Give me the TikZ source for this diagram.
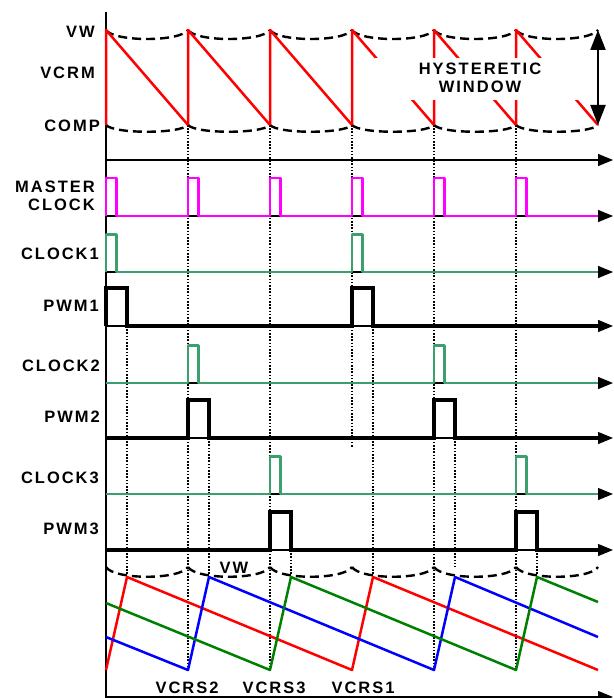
\documentclass[tikz,border=0pt]{standalone}
\usepackage{fontspec}
\setmainfont{Liberation Sans}
\newfontfamily\lblfont[LetterSpace=12]{Liberation Sans}
\usetikzlibrary{arrows.meta}
\definecolor{mclk}{RGB}{255,0,255}
\definecolor{clkgreen}{RGB}{60,160,110}
\definecolor{vgreen}{RGB}{0,128,0}
\begin{document}
\begin{tikzpicture}[x=1pt,y=-1pt,line join=round,
  >={Triangle[length=15pt,width=12pt]},
  lbl/.style={font=\lblfont\bfseries\fontsize{16.5}{18}\selectfont,inner sep=0pt},
  axis/.style={line width=1.2pt},
  vdot/.style={line width=1.8pt,dash pattern=on 1.6pt off 1.6pt},
  win/.style={line width=2.4pt,dash pattern=on 9pt off 5pt},
  clk/.style={line width=2.5pt},
  pwm/.style={line width=3.8pt,line join=miter}]
\def\P{82} \def\xo{106} \def\xe{598}
\useasboundingbox (0,0) rectangle (613,698);
% axes
\draw[axis] (\xo,12)--(\xo,698);
\foreach \y in {160,216,272,326,383,438,494,550,697}
  \draw[axis,->] (\xo,\y)--(613,\y);
% signal names
\node[lbl,anchor=east] (vw) at (95,32) {VW};
\node[lbl,anchor=east] (vcrm) at (95,73) {VCRM};
\node[lbl,anchor=east] (comp) at (100,126) {COMP};
\node[lbl,anchor=east,align=right] (mclock) at (95,196) {MASTER\\CLOCK};
\node[lbl,anchor=east] (clock1) at (99,254) {CLOCK1};
\node[lbl,anchor=east] (pwm1) at (99,306) {PWM1};
\node[lbl,anchor=east] (clock2) at (100,366) {CLOCK2};
\node[lbl,anchor=east] (pwm2) at (100,417) {PWM2};
\node[lbl,anchor=east] (clock3) at (99,478) {CLOCK3};
\node[lbl,anchor=east] (pwm3) at (99,529) {PWM3};
% dotted lines from COMP
\foreach \k/\e in {1/670,2/670,3/447,4/670,5/670}
  \draw[vdot] ({\xo+\k*\P},125)--({\xo+\k*\P},\e);
% hysteretic window and VCRM
\foreach \k in {0,...,5}{
  \pgfmathsetmacro\xa{\xo+\k*\P} \pgfmathsetmacro\xb{\xa+\P}
  \draw[win] (\xa,30) .. controls (\xa+8,42) and (\xb-8,42) .. (\xb,30);
  \draw[win] (\xa,125) .. controls (\xa+8,134) and (\xb-8,134) .. (\xb,125);
  \draw[win] (\xa,567) .. controls (\xa+8,580) and (\xb-8,580) .. (\xb,567);
  \draw[red,clk] (\xa,125)--(\xa,30)--(\xb,125);
}
\fill[white] (375,58) rectangle (588,100);
\node[lbl,align=center] (hyst) at (480,77.5) {HYSTERETIC\\WINDOW};
\draw[<->,line width=2.2pt,>={Triangle[length=20pt,width=15pt]}] (\xe,30)--(\xe,125);
% master clock
\draw[mclk,clk] (\xo,216) \foreach \k in {0,...,5}{
  --({\xo+\k*\P},216)--++(0,-38)--++(10.5,0)--++(0,38)} --(\xe,216);
% phase clocks and PWM
\foreach \cb/\pb/\de [count=\i from 0] in {272/326/577,383/438/567,494/550/577}{
  \pgfmathsetmacro\xa{\xo+\i*\P} \pgfmathsetmacro\xb{\xa+3*\P}
  \draw[vdot] (\xa+21,\pb)--(\xa+21,577) (\xb+21,\pb)--(\xb+21,\de);
  \draw[clkgreen,clk] (\xo,\cb)--(\xa,\cb)--++(0,-37.5)--++(10.5,0)--++(0,37.5)
    --(\xb,\cb)--++(0,-37.5)--++(10.5,0)--++(0,37.5)--(\xe,\cb);
  \draw[pwm] (\xo,\pb)--(\xa,\pb)--++(0,-38)--++(21,0)--++(0,38)
    --(\xb,\pb)--++(0,-38)--++(21,0)--++(0,38)--(\xe,\pb);
}
% VCRS ramps
\draw[red,clk] (\xo,670)--(127,577)--(352,670)--(373,577)--(\xe,670);
\draw[blue,clk] (\xo,637)--(188,670)--(209,577)--(434,670)--(455,577)--(\xe,637);
\draw[vgreen,clk] (\xo,603)--(270,670)--(291,577)--(516,670)--(537,577)--(\xe,602);
\node[lbl] (vwb) at (234,567.5) {VW};
\node[lbl] (vcrs2) at (187,688) {VCRS2};
\node[lbl] (vcrs3) at (274,688) {VCRS3};
\node[lbl] (vcrs1) at (363,688) {VCRS1};
\end{tikzpicture}
\end{document}
